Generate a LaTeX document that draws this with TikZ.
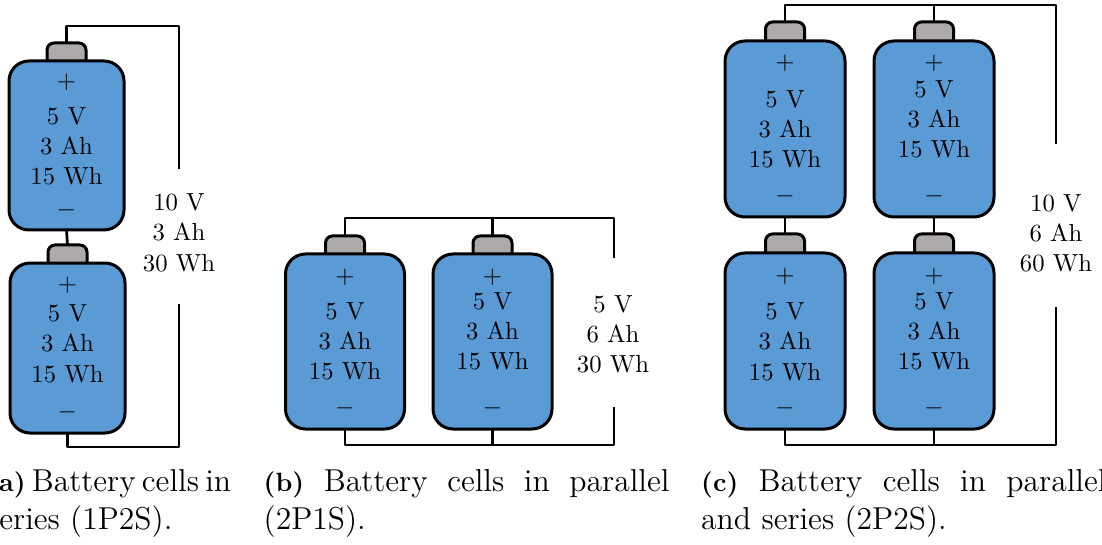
\documentclass[tikz,border=0pt]{standalone}
\usepackage{graphicx}
\definecolor{cellblue}{HTML}{5B9BD5}
\definecolor{capgray}{HTML}{AEAAAA}
\renewcommand{\arraystretch}{1.02}
\newcommand{\captag}[1]{{\fontsize{10}{14.4}\selectfont\textbf{(#1)}}}
\newcommand{\stacktxt}[1]{\scalebox{2.47}{\begin{tabular}{@{}c@{}}#1\end{tabular}}}
\newcommand{\signtxt}[1]{\scalebox{2.47}{$#1$}}
\newcommand{\captxt}[2]{\scalebox{2.64}{\parbox[t]{#1pt}{\fontsize{12}{14.4}\selectfont\noindent #2}}}
\tikzset{
  cellbody/.style={draw=black,fill=cellblue,line width=3pt,rounded corners=20pt,inner sep=0pt,outer sep=0pt},
  cellcap/.style={draw=black,fill=capgray,line width=3pt,rounded corners=7pt,inner sep=0pt,outer sep=0pt,minimum height=34pt,anchor=north},
  wire/.style={draw=black,line width=2.7pt},
  lbl/.style={inner sep=0pt,anchor=center,yshift=-2.3pt},
  sign/.style={inner sep=0pt,anchor=center},
  capt/.style={inner sep=0pt,anchor=north west}
}
% name, centre x, body width, top of cap, body top, body bottom, plus y, text y, minus y
\newcommand{\cellat}[9]{%
  \node[cellcap,minimum width=39pt] (#1cap) at (#2,#4) {};
  \node[cellbody,minimum width=#3pt,minimum height=#6pt-#5pt] (#1) at (#2,{(#5+#6)/2}) {};
  \node[sign] (#1plus) at (#2,#7) {\signtxt{+}};
  \node[lbl] (#1txt) at (#2,#8) {\stacktxt{5 V\\3 Ah\\15 Wh}};
  \node[sign] (#1minus) at (#2,#9) {\signtxt{-}};
}
\begin{document}
\begin{tikzpicture}[x=1pt,y=-1pt]
\useasboundingbox (0,0) rectangle (1102,545);
\clip (0,0) rectangle (1102,545);

% (a)
\cellat{aone}{66.5}{115}{43}{61}{230}{82}{146}{210}
\cellat{atwo}{67.5}{115}{245}{263}{433}{285}{343.5}{412}
\coordinate (atop) at (179,26);
\coordinate (abot) at (179,447);
\coordinate (aupper) at (179,169);
\coordinate (alower) at (179,304);
\draw[wire,line join=round] (aonecap.north) |- (atop) -- (aupper);
\draw[wire,line join=round] (atwo.south) |- (abot) -- (alower);
\draw[wire] (aone.south) -- (atwocap.north);
\node[lbl] (alabel) at (179,232.5) {\stacktxt{10 V\\3 Ah\\30 Wh}};

% (b)
\cellat{bone}{345}{119}{236}{254}{429}{277}{341}{408}
\cellat{btwo}{492.5}{119}{236}{254}{429}{277}{331}{408}
\coordinate (btop) at (614,218);
\coordinate (bbot) at (614,445);
\coordinate (bupper) at (614,258);
\coordinate (blower) at (614,407);
\draw[wire,line join=round] (bonecap.north) |- (btop) -- (bupper);
\draw[wire,line join=round] (bone.south) |- (bbot) -- (blower);
\draw[wire] (btwocap.north) -- (btwocap.north |- btop);
\draw[wire] (btwo.south) -- (btwo.south |- bbot);
\node[lbl] (blabel) at (613,334) {\stacktxt{5 V\\6 Ah\\30 Wh}};

% (c)
\cellat{cone}{785}{120}{22}{41}{217}{63}{129}{196}
\cellat{ctwo}{934}{120}{22}{41}{217}{63}{119}{196}
\cellat{cthree}{785}{120}{234}{253}{429}{276}{341.5}{408}
\cellat{cfour}{934}{120}{234}{253}{429}{276}{331}{408}
\coordinate (ctop) at (1056,5);
\coordinate (cbot) at (1056,445);
\coordinate (cupper) at (1056,144);
\coordinate (clower) at (1056,307);
\draw[wire,line join=round] (conecap.north) |- (ctop) -- (cupper);
\draw[wire,line join=round] (cthree.south) |- (cbot) -- (clower);
\draw[wire] (ctwocap.north) -- (ctwocap.north |- ctop);
\draw[wire] (cfour.south) -- (cfour.south |- cbot);
\draw[wire] (cone.south) -- (cthreecap.north);
\draw[wire] (ctwo.south) -- (cfourcap.north);
\node[lbl,yshift=0.8pt] (clabel) at (1056,234) {\stacktxt{10 V\\6 Ah\\60 Wh}};

% captions
\node[capt] (capa) at (-13,469) {\captxt{92.4}{\hbox to 92.4pt{\captag{a}\hfil Battery\hfil cells\hfil in}\\series (1P2S).}};
\node[capt] (capb) at (263.5,469) {\captxt{153.7}{\captag{b} Battery cells in parallel\linebreak (2P1S).}};
\node[capt] (capc) at (701,469) {\captxt{153.5}{\captag{c} Battery cells in parallel\linebreak and series (2P2S).}};
\end{tikzpicture}
\end{document}
